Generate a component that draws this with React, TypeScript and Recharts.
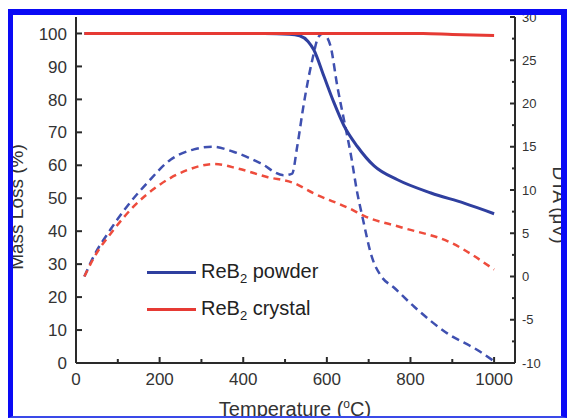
import { LineChart, Line, XAxis, YAxis, Legend, Label } from "recharts";

// temperature (°C) vs mass (%) / DTA (µV)
const powderMass = [
  [20, 100], [450, 100], [510, 99.8], [535, 99.3], [555, 97.6], [569, 95],
  [593, 87], [617, 79], [641, 72], [673, 65.7], [713, 59.8], [769, 55.6],
  [849, 51.6], [928, 48.5], [1000, 45.3],
];
const crystalMass = [
  [20, 100], [600, 100], [830, 100], [900, 99.7], [1000, 99.4],
];
const powderDta = [
  [20, 0], [42, 2.3], [82, 5.4], [122, 8.1], [170, 10.8], [226, 13.5],
  [282, 14.7], [326, 15], [378, 14.4], [441, 13.1], [497, 11.7], [517, 11.9],
  [529, 15], [545, 20], [565, 25], [580, 27.7], [591, 28.1], [600, 27.7],
  [609, 26.6], [625, 22], [641, 18.1], [657, 14.2], [673, 9.6], [685, 6.9],
  [708, 2.2], [729, 0.1], [761, -1.3], [809, -3.5], [889, -6.6], [960, -8.5],
  [1000, -9.8],
];
const crystalDta = [
  [20, 0], [42, 2.1], [90, 5.4], [138, 8.1], [194, 10.4], [266, 12.3],
  [330, 13], [386, 12.5], [457, 11.5], [521, 10.8], [569, 9.6], [657, 7.8],
  [689, 7.0], [777, 5.7], [897, 3.9], [1000, 0.8],
];

const tempTicks = [0, 100, 200, 300, 400, 500, 600, 700, 800, 900, 1000];
const massTicks = [0, 10, 20, 30, 40, 50, 60, 70, 80, 90, 100];
const dtaTicks = [-10, -7.5, -5, -2.5, 0, 2.5, 5, 7.5, 10, 12.5, 15, 17.5, 20, 22.5, 25, 27.5, 30];

const legendItems = [
  { name: "powder", color: "#2f3f9f" },
  { name: "crystal", color: "#e63a34" },
];

const BLUE = "#2f3f9f";
const BLUE_DASH = "#3f50b0";
const RED = "#e63a34";
const RED_DASH = "#ee4c3c";
const AXIS = "#2a2a2a";
const TEXT = "#333";
const FONT = "'Liberation Sans', Arial, sans-serif";

const toPoints = (rows: number[][]) => rows.map(([t, v]) => ({ t, v }));

const BottomTick = (props: any) => {
  const { x, y, payload } = props;
  const major = payload.value % 200 === 0;
  return (
    <g>
      <line x1={x} x2={x} y1={y} y2={y - (major ? 6 : 4)} stroke={AXIS} strokeWidth={2} />
      {major && (
        <text x={x} y={y + 22} textAnchor="middle" fontSize={17} fill={TEXT} fontFamily={FONT}>
          {payload.value}
        </text>
      )}
    </g>
  );
};

const TopTick = (props: any) => {
  const { x, y, payload } = props;
  const major = payload.value % 200 === 0;
  return <line x1={x} x2={x} y1={y} y2={y + (major ? 6 : 4)} stroke={AXIS} strokeWidth={2} />;
};

const LeftTick = (props: any) => {
  const { x, y, payload } = props;
  return (
    <g>
      <line x1={x} x2={x + 6} y1={y} y2={y} stroke={AXIS} strokeWidth={2} />
      <text x={x - 9} y={y} dy="0.36em" textAnchor="end" fontSize={17} fill={TEXT} fontFamily={FONT}>
        {payload.value}
      </text>
    </g>
  );
};

const RightTick = (props: any) => {
  const { x, y, payload } = props;
  const major = payload.value % 5 === 0;
  return (
    <g>
      <line x1={x} x2={x - (major ? 5 : 3)} y1={y} y2={y} stroke={AXIS} strokeWidth={2} />
      {major && (
        <text x={x + 7} y={y} dy="0.36em" textAnchor="start" fontSize={13} fill={TEXT} fontFamily={FONT}>
          {payload.value}
        </text>
      )}
    </g>
  );
};

const LegendBox = () => (
  <div style={{ fontFamily: FONT, fontSize: 20, color: "#222" }}>
    {legendItems.map((it) => (
      <div key={it.name} style={{ display: "flex", alignItems: "center", height: 37 }}>
        <div style={{ width: 49, height: 3, background: it.color, marginRight: 5 }} />
        <span>
          ReB<sub style={{ fontSize: 13 }}>2</sub> {it.name}
        </span>
      </div>
    ))}
  </div>
);

export default function App() {
  return (
    <div
      style={{
        position: "absolute",
        left: 0,
        top: 0,
        width: 567,
        height: 418,
        background: "#fff",
        overflow: "hidden",
      }}
    >
      <LineChart
        width={567}
        height={418}
        margin={{ top: 17, right: 0, bottom: 0, left: 0 }}
        style={{ fontFamily: FONT }}
      >
        <XAxis
          dataKey="t"
          type="number"
          domain={[0, 1050]}
          ticks={tempTicks}
          height={55}
          tickSize={0}
          tickMargin={0}
          tick={<BottomTick />}
          axisLine={{ stroke: AXIS, strokeWidth: 2 }}
          interval={0}
        >
          <Label
            content={() => (
              <text x={295} y={416} textAnchor="middle" fontSize={20} fill={TEXT} fontFamily={FONT}>
                Temperature (<tspan fontSize={12} dy={-8}>o</tspan>
                <tspan dy={8}>C)</tspan>
              </text>
            )}
          />
        </XAxis>
        <XAxis
          xAxisId="top"
          orientation="top"
          dataKey="t"
          type="number"
          domain={[0, 1050]}
          ticks={tempTicks}
          height={0}
          tickSize={0}
          tickMargin={0}
          tick={<TopTick />}
          axisLine={{ stroke: AXIS, strokeWidth: 2 }}
          interval={0}
        />
        <YAxis
          yAxisId="left"
          type="number"
          domain={[0, 105]}
          ticks={massTicks}
          width={76}
          tickSize={0}
          tickMargin={0}
          tick={<LeftTick />}
          axisLine={{ stroke: AXIS, strokeWidth: 2 }}
          interval={0}
        >
          <Label
            content={() => (
              <text
                x={23}
                y={207}
                transform="rotate(-90 23 207)"
                textAnchor="middle"
                fontSize={19}
                fill={TEXT}
                fontFamily={FONT}
              >
                Mass Loss (%)
              </text>
            )}
          />
        </YAxis>
        <YAxis
          yAxisId="right"
          orientation="right"
          type="number"
          domain={[-10, 30]}
          ticks={dtaTicks}
          width={52}
          tickSize={0}
          tickMargin={0}
          tick={<RightTick />}
          axisLine={{ stroke: AXIS, strokeWidth: 2 }}
          interval={0}
        >
          <Label
            content={() => (
              <text
                x={553}
                y={205}
                transform="rotate(90 553 205)"
                textAnchor="middle"
                fontSize={19}
                fill={TEXT}
                fontFamily={FONT}
              >
                DTA (μV)
              </text>
            )}
          />
        </YAxis>
        <Legend
          layout="horizontal"
          verticalAlign="middle"
          align="center"
          wrapperStyle={{ left: 147, top: 254, width: 220, height: 74 }}
          content={() => <LegendBox />}
        />
        <Line
          yAxisId="right"
          data={toPoints(powderDta)}
          dataKey="v"
          type="monotone"
          stroke={BLUE_DASH}
          strokeWidth={2.5}
          strokeDasharray="8 5"
          dot={false}
          activeDot={false}
          isAnimationActive={false}
        />
        <Line
          yAxisId="right"
          data={toPoints(crystalDta)}
          dataKey="v"
          type="monotone"
          stroke={RED_DASH}
          strokeWidth={2.5}
          strokeDasharray="7 5"
          dot={false}
          activeDot={false}
          isAnimationActive={false}
        />
        <Line
          yAxisId="left"
          data={toPoints(powderMass)}
          dataKey="v"
          type="monotone"
          stroke={BLUE}
          strokeWidth={3}
          dot={false}
          activeDot={false}
          isAnimationActive={false}
        />
        <Line
          yAxisId="left"
          data={toPoints(crystalMass)}
          dataKey="v"
          type="monotone"
          stroke={RED}
          strokeWidth={3}
          dot={false}
          activeDot={false}
          isAnimationActive={false}
        />
      </LineChart>
      <div
        style={{
          position: "absolute",
          left: 8,
          top: 9,
          width: 559,
          height: 409,
          boxSizing: "border-box",
          borderTop: "6px solid #0a0af5",
          borderLeft: "5px solid #0a0af5",
          borderRight: "6px solid #0a0af5",
          borderBottom: "2px solid #3a4ae8",
          pointerEvents: "none",
        }}
      />
    </div>
  );
}
